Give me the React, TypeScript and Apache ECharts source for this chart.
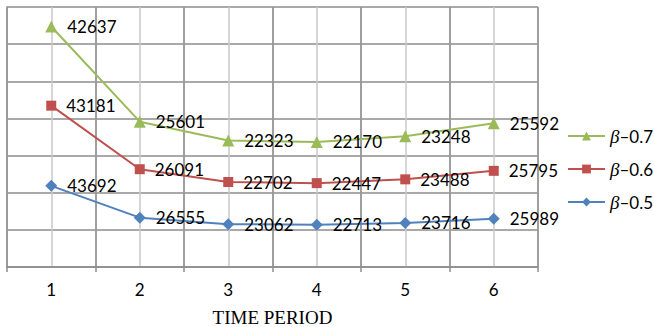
import React, { useEffect, useRef } from "react";
import * as echarts from "echarts";

const periods = ["1", "2", "3", "4", "5", "6"];
const halfSteps = ["a", "b", "c", "d", "e", "f", "g", "h", "i", "j", "k", "l"];
const beta05 = [43692, 26555, 23062, 22713, 23716, 25989];
const beta06 = [43181, 26091, 22702, 22447, 23488, 25795];
const beta07 = [42637, 25601, 22323, 22170, 23248, 25592];
const seriesNames = ["β–0.5", "β–0.6", "β–0.7"];
const legendOrder = ["β–0.7", "β–0.6", "β–0.5"];
const xTitle = "TIME PERIOD";

export default function App() {
  const ref = useRef<HTMLDivElement>(null);
  useEffect(() => {
    if (!ref.current) return;
    const chart = echarts.init(ref.current, undefined, { renderer: "svg" });
    const labelFont = "Lato, 'Open Sans', sans-serif";
    const mk = (name: string, data: number[], color: string, symbol: string, size: number) => ({
      name,
      type: "line",
      stack: "total",
      data,
      xAxisIndex: 0,
      symbol,
      symbolSize: size,
      lineStyle: { color, width: 2 },
      itemStyle: { color },
      label: {
        show: true,
        position: "right",
        distance: 10,
        color: "#000",
        fontSize: 17,
        fontFamily: labelFont,
      },
      z: 5,
    });
    chart.setOption({
      animation: false,
      backgroundColor: "#fff",
      grid: { left: 7, right: 116, top: 7, bottom: 60, outerBoundsMode: "none", containLabel: false },
      xAxis: [
        {
          type: "category",
          data: periods,
          boundaryGap: true,
          axisLine: { show: true, lineStyle: { color: "#8c8c8c", width: 1.5 } },
          axisTick: { show: true, length: 5, lineStyle: { color: "#8c8c8c", width: 1.5 } },
          axisLabel: { color: "#000", fontSize: 17, fontFamily: labelFont, margin: 14 },
          splitLine: { show: true, lineStyle: { color: "#8c8c8c", width: 1.5 } },
          name: xTitle,
          nameLocation: "middle",
          nameGap: 42,
          nameTextStyle: {
            color: "#000",
            fontSize: 19,
            lineHeight: 17,
            fontFamily: "'Liberation Serif', 'Times New Roman', serif",
          },
          z: 3,
        },
        {
          type: "category",
          data: halfSteps,
          boundaryGap: true,
          position: "bottom",
          axisLine: { show: false },
          axisTick: { show: false },
          axisLabel: { show: false },
          splitLine: { show: true, lineStyle: { color: "#c8c8c8", width: 1.5 } },
          z: 1,
        },
      ],
      yAxis: {
        type: "value",
        min: 0,
        max: 140000,
        interval: 20000,
        axisLabel: { show: false },
        axisTick: { show: false },
        axisLine: { show: true, lineStyle: { color: "#8c8c8c", width: 1.5 } },
        splitLine: { show: true, lineStyle: { color: "#8c8c8c", width: 1.5 } },
      },
      legend: {
        data: legendOrder,
        orient: "vertical",
        left: 562,
        top: 121,
        itemWidth: 37,
        itemHeight: 11,
        itemGap: 13,
        formatter: (name: string) => `{i|β}{n|${name.slice(1)}}`,
        textStyle: {
          color: "#000",
          lineHeight: 20,
          rich: {
            i: { fontStyle: "italic", fontSize: 19, fontFamily: "'Liberation Serif', serif", color: "#000" },
            n: { fontSize: 17, fontFamily: labelFont, color: "#000" },
          },
        },
      },
      series: [
        mk(seriesNames[0], beta05, "#4f81bd", "diamond", 12),
        mk(seriesNames[1], beta06, "#c0504d", "rect", 10),
        mk(seriesNames[2], beta07, "#9bbb59", "triangle", 12),
      ],
    });
    return () => chart.dispose();
  }, []);
  return <div ref={ref} style={{ width: 654, height: 327, position: "absolute", left: 0, top: 0 }} />;
}
